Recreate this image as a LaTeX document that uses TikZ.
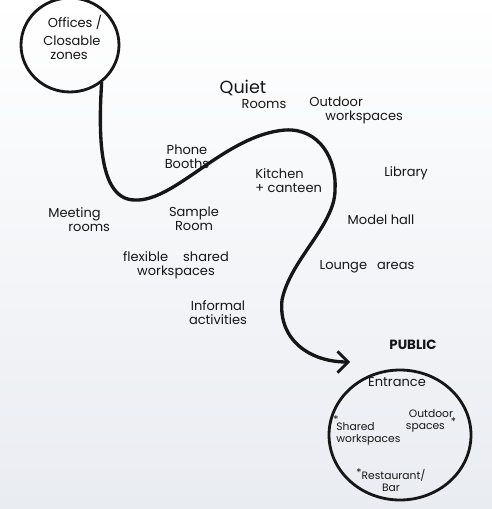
\documentclass[tikz,border=0pt]{standalone}
\usepackage{fontspec}
\setmainfont{Poppins}
\usepackage{xcolor}
\usepackage{tikz}
\usetikzlibrary{arrows.meta, shapes.geometric}
\definecolor{ink}{RGB}{22,22,22}
\definecolor{paper}{RGB}{233,236,241}

\begin{document}
\begin{tikzpicture}[x=0.02cm, y=-0.02cm,
  every node/.style={font=\fontsize{7.4}{8}\selectfont, text=ink, inner sep=0pt, align=center},
  zone/.style={draw=ink, line width=1.6pt, ellipse},
  tiny/.style={font=\fontsize{6.1}{6.6}\selectfont},
  route/.style={draw=ink, line width=1.9pt, line cap=round,
    -{Straight Barb[length=6pt,width=12pt,line width=1.6pt]}}]
  % paper
  \shade[top color=white, bottom color=paper] (0,0) rectangle (492,509);
  \useasboundingbox (0,0) rectangle (492,509);

  % closed end and public end
  \node[zone, minimum width=1.96cm, minimum height=1.88cm] (offices) at (70,45) {};
  \node (offtitle) at (75,22) {Offices /};
  \node[align=left, anchor=west] (closable) at (43,48) {Closable\\\hspace*{0.14cm}zones};

  \node[zone, minimum width=2.84cm, minimum height=2.6cm] (public) at (400,435) {};
  \node[font=\bfseries\fontsize{7.6}{8}\selectfont] (publictitle) at (413,345) {PUBLIC};
  \coordinate (entry) at (350,362);

  % zones along the route
  \node[font=\fontsize{10}{11}\selectfont] (quiet) at (243,88) {Quiet};
  \node (quietrooms) at (264,104) {Rooms};
  \node[align=left, anchor=west] (outdoor) at (309,110) {Outdoor\\\hspace*{0.32cm}workspaces};
  \node (phone) at (187,157) {Phone\\Booths};
  \node[align=left, anchor=west] (kitchen) at (255,181) {Kitchen\\+ canteen};
  \node (library) at (406,173) {Library};
  \node[align=left, anchor=west] (meeting) at (48,220) {Meeting\\\hspace*{0.4cm}rooms};
  \node (sample) at (194,219) {Sample\\Room};
  \node (model) at (381,220) {Model hall};
  \node (flexible) at (176,265) {flexible\hspace{0.3cm}shared\\workspaces};
  \node (lounge) at (367,267) {Lounge\hspace{0.2cm}areas};
  \node (informal) at (218,313) {Informal\\activities};

  % inside the public end
  \node (entrance) at (397,382) {Entrance};
  \node[tiny, anchor=south west] (star) at (333,424) {*};
  \node[tiny, align=left, anchor=west] (shared) at (336,434) {Shared\\workspaces};
  \node[tiny] (outspaces) at (431,421) {Outdoor\\spaces\hspace{0.12cm}\raisebox{2pt}{*}};
  \node[tiny] (restaurant) at (391,480) {\raisebox{2pt}{*}Restaurant/\\Bar};

  % route from closed to public
  \draw[route] (offices.-50) .. controls (98,140) and (100,200) .. (135,200)
    .. controls (175,202) and (225,135) .. (285,130)
    .. controls (320,128) and (337,160) .. (335,190)
    .. controls (335,225) and (290,260) .. (282,300)
    .. controls (278,340) and (310,362) .. (entry);
\end{tikzpicture}
\end{document}
